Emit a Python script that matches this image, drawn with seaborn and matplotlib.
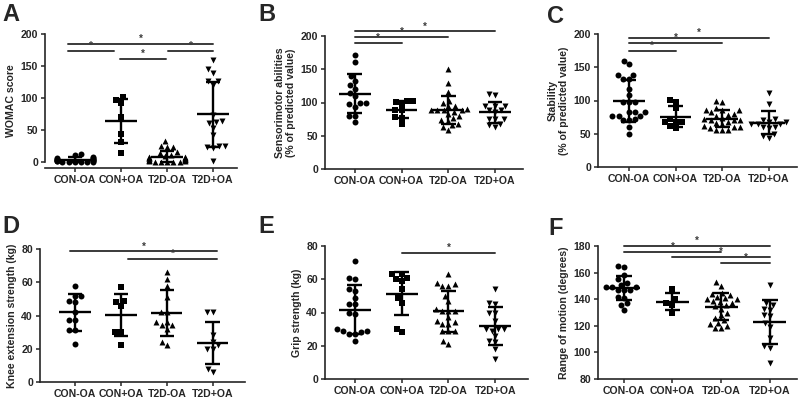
import numpy as np
import pandas as pd
import seaborn as sns
import matplotlib as mpl
import matplotlib.pyplot as plt

groups = ['CON-OA', 'CON+OA', 'T2D-OA', 'T2D+OA']
markers = ['o', 's', '^', 'v']

# A - WOMAC score
womac = [
    [13, 12, 8, 7, 6, 5, 5, 4, 4, 3, 3, 2, 2, 2, 1, 1, 1, 0, 0, 0],
    [101, 97, 92, 70, 44, 31, 15],
    [33, 25, 24, 24, 16, 14, 12, 9, 8, 8, 7, 7, 6, 5, 5, 4, 3, 3, 2, 2, 1, 1, 0, 0, 0],
    [160, 145, 139, 127, 126, 121, 73, 64, 62, 61, 54, 43, 25, 25, 24, 22, 2],
]
# B - sensorimotor abilities
sensorimotor = [
    [171, 161, 140, 133, 127, 121, 115, 110, 99, 99, 97, 93, 80, 80, 70],
    [97, 102, 102, 101, 89, 88, 76, 78, 67],
    [150, 129, 116, 103, 99, 95, 94, 90, 89, 88, 88, 88, 86, 82, 80, 76, 74, 72, 68, 66, 63, 59],
    [113, 111, 95, 95, 95, 88, 86, 88, 75, 75, 75, 63, 68, 66],
]
# C - stability
stability = [
    [155, 160, 139, 139, 133, 133, 118, 108, 98, 98, 98, 83, 83, 83, 77, 77, 77, 70, 70, 72, 60, 49],
    [97, 101, 88, 67, 67, 62, 67, 58, 72],
    [100, 97, 88, 86, 85, 85, 82, 80, 78, 76, 74, 72, 70, 70, 70, 68, 66, 64, 62, 60, 60, 58, 56, 56, 55],
    [112, 95, 65, 68, 65, 68, 72, 70, 65, 60, 58, 60, 50, 47, 44],
]
# D - knee extension strength
knee = [
    [58, 52, 52, 48, 49, 42, 37, 37, 31, 31, 23],
    [57, 49, 48, 46, 30, 30, 22],
    [66, 62, 58, 51, 42, 42, 36, 36, 34, 34, 32, 22, 24],
    [42, 42, 28, 20, 22, 24, 20, 6, 8],
]
# E - grip strength
grip = [
    [71, 60, 61, 53, 54, 49, 45, 45, 39, 40, 29, 30, 29, 28, 27, 27, 23],
    [63, 63, 60, 61, 59, 54, 49, 46, 30, 28],
    [63, 56, 58, 56, 57, 50, 47, 41, 42, 41, 41, 37, 35, 33, 33, 34, 29, 29, 29, 23, 21],
    [54, 45, 46, 40, 40, 35, 30, 30, 30, 29, 26, 22, 23, 18, 12],
]
# F - range of motion
rom = [
    [164, 165, 158, 155, 151, 149, 149, 152, 147, 147, 147, 149, 141, 142, 137, 136, 132],
    [148, 136, 137, 140, 130],
    [153, 150, 145, 144, 143, 142, 141, 140, 140, 139, 138, 137, 136, 135, 133, 130, 128,
     126, 124, 122, 121, 120, 118, 118],
    [151, 137, 136, 132, 133, 128, 127, 122, 119, 111, 103, 105, 92],
]

# significance bars: (from, to, height)
sig_a = [(-0.15, 3.0, 184), (-0.15, 0.85, 174), (0.97, 1.98, 161), (2.02, 3.0, 174)]
sig_b = [(0, 3, 207), (0, 2, 198), (0, 1, 189)]
sig_c = [(0, 3, 194), (0, 2, 186), (0, 1, 175)]
sig_d = [(-0.1, 3.1, 78.5), (1.15, 3.1, 74)]
sig_e = [(1, 3, 76)]
sig_f = [(0, 3, 180), (0, 2, 175.7), (1, 3, 171.5), (2, 3, 167.5)]

sns.set_theme(style='ticks')
plt.rcParams['font.family'] = ['Liberation Sans', 'DejaVu Sans']
plt.rcParams['font.weight'] = 'bold'
plt.rcParams['axes.labelweight'] = 'bold'


def to_frame(values):
    rows = []
    for g, vals in zip(groups, values):
        for v in vals:
            rows.append({'group': g, 'value': v})
    return pd.DataFrame(rows)


def panel(fig, rect, values, ylabel, ylim, yticks, xlim, sigs):
    W, H = 800, 400
    l, t, r, b = rect
    ax = fig.add_axes([l / W, 1 - b / H, (r - l) / W, (b - t) / H])
    df = to_frame(values)
    for g, m in zip(groups, markers):
        sns.swarmplot(data=df[df.group == g], x='group', y='value', order=groups,
                      marker=m, color='black', size=4.3, linewidth=0, ax=ax,
                      warn_thresh=1)
    stats = df.groupby('group', sort=False)['value'].agg(['mean', 'std'])
    for i, g in enumerate(groups):
        mu, sd = stats.loc[g, 'mean'], stats.loc[g, 'std']
        ax.vlines(i, mu - sd, mu + sd, color='black', lw=1.7, zorder=4)
        ax.hlines([mu - sd, mu + sd], i - 0.16, i + 0.16, color='black', lw=1.7, zorder=4)
        ax.hlines(mu, i - 0.34, i + 0.34, color='black', lw=1.7, zorder=4)
    for x0, x1, y in sigs:
        ax.plot([x0, x1], [y, y], color='#3a3a3a', lw=1.4, clip_on=False)
        ax.text((x0 + x1) / 2, y, '*', ha='center', va='bottom', fontsize=7,
                color='#3a3a3a', clip_on=False)
    ax.set_ylim(*ylim)
    ax.set_yticks(yticks)
    ax.set_xlim(*xlim)
    ax.set_xlabel('')
    ax.set_ylabel(ylabel, fontsize=7.6, fontweight='bold', labelpad=3)
    ax.tick_params(labelsize=7.6, length=3, width=1.1, pad=2)
    for lab in ax.get_xticklabels() + ax.get_yticklabels():
        lab.set_fontweight('bold')
    sns.despine(ax=ax)
    for s in ['left', 'bottom']:
        ax.spines[s].set_linewidth(1.2)
    ax.spines['left'].set_bounds(max(ylim[0], yticks[0]), yticks[-1])
    return ax


fig = plt.figure(figsize=(8, 4), dpi=100)

panel(fig, (45, 34, 237, 168), womac, 'WOMAC score', (-9, 200),
      [0, 50, 100, 150, 200], (-0.65, 3.52), sig_a)
panel(fig, (325, 36, 523, 169), sensorimotor,
      'Sensorimotor abilities\n(% of predicted value)', (0, 200),
      [0, 50, 100, 150, 200], (-0.64, 3.6), sig_b)
panel(fig, (598, 34, 797, 167), stability, 'Stability\n(% of predicted value)',
      (0, 200), [0, 50, 100, 150, 200], (-0.66, 3.6), sig_c)
panel(fig, (40, 249, 245, 382), knee, 'Knee extension strength (kg)', (0, 80),
      [0, 20, 40, 60, 80], (-0.76, 3.7), sig_d)
panel(fig, (325, 246, 528, 379), grip, 'Grip strength (kg)', (0, 80),
      [0, 20, 40, 60, 80], (-0.64, 3.7), sig_e)
panel(fig, (598, 246, 797, 379), rom, 'Range of motion (degrees)', (80, 180),
      [80, 100, 120, 140, 160, 180], (-0.53, 3.56), sig_f)

for letter, x, y in [('A', 2, 3), ('B', 258, 3), ('C', 547, 5),
                     ('D', 2, 215), ('E', 258, 215), ('F', 548, 217)]:
    fig.text(x / 800, 1 - y / 400, letter, fontsize=17, fontweight='bold',
             ha='left', va='top')

fig.savefig('out.png', dpi=100)
